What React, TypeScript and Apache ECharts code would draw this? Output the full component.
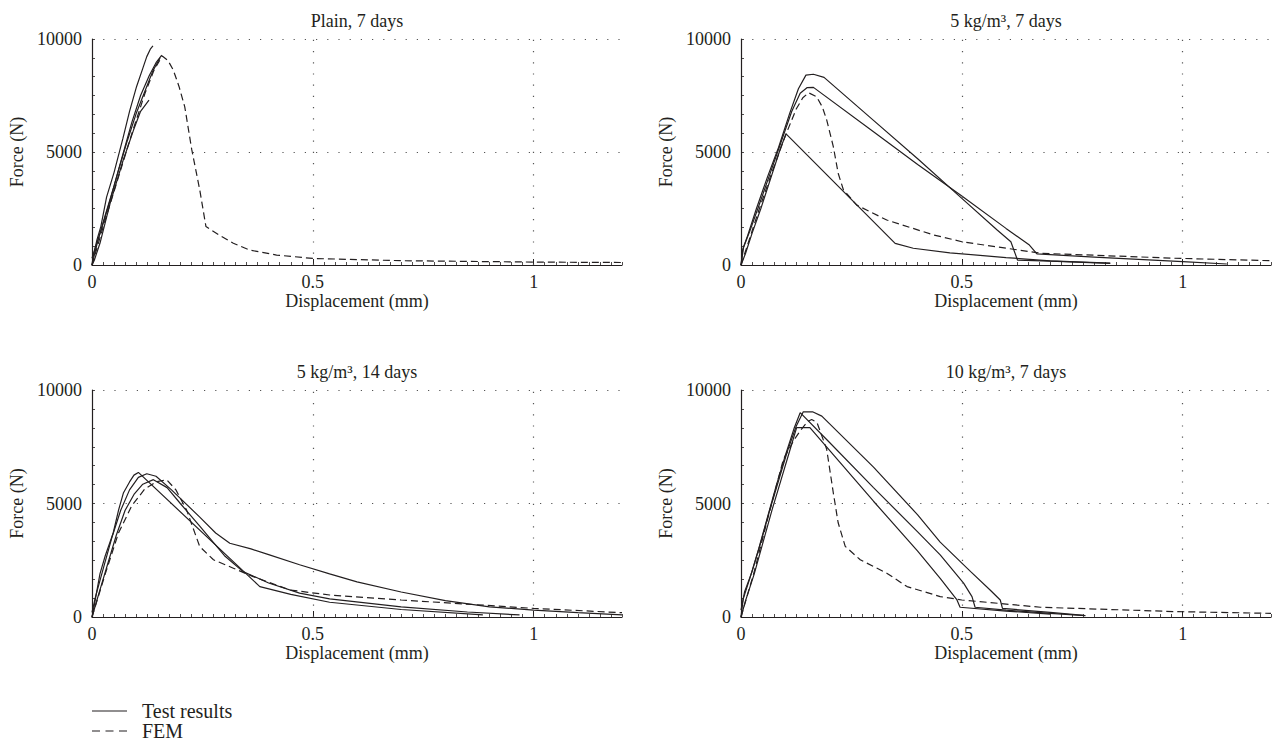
import React, { useEffect, useRef } from 'react';
import * as echarts from 'echarts';

// ---------- labels ----------
const panelTitles = ['Plain, 7 days', '5 kg/m³, 7 days', '5 kg/m³, 14 days', '10 kg/m³, 7 days'];
const xAxisName = 'Displacement (mm)';
const yAxisName = 'Force (N)';
const legendLabels = ['Test results', 'FEM'];
const xTickValues = [0, 0.5, 1];
const xGridValues = [0.5, 1];

// ---------- data: [displacement (mm), force (N)] ----------
// Plain, 7 days
const plainTest1 = [[0,0],[0.002,300],[0.011,1100],[0.02,1700],[0.033,3000],[0.05,4100],[0.07,5600],[0.085,6800],[0.101,7900],[0.115,8700],[0.124,9220],[0.132,9550],[0.138,9700]];
const plainTest2 = [[0,0],[0.006,500],[0.015,1200],[0.03,2200],[0.05,3500],[0.07,4900],[0.09,6300],[0.11,7500],[0.13,8400],[0.145,8950],[0.158,9290]];
const plainTest3 = [[0,300],[0.008,800],[0.02,1500],[0.04,2800],[0.06,4200],[0.08,5500],[0.1,6700],[0.12,7700],[0.138,8600],[0.154,9160]];
const plainTest4 = [[0,0],[0.005,200],[0.018,960],[0.041,2730],[0.07,4600],[0.094,5970],[0.11,6800],[0.129,7300]];
const plainFem = [[0,0],[0.03,2000],[0.06,3900],[0.09,5800],[0.12,7600],[0.14,8600],[0.159,9250],[0.172,9050],[0.184,8630],[0.197,7900],[0.21,7000],[0.226,5090],[0.244,3320],[0.258,1700],[0.29,1300],[0.32,960],[0.357,660],[0.418,440],[0.5,290],[0.7,190],[1.0,130],[1.2,110]];

// 5 kg/m3, 7 days
const f5d7Test1 = [[0,0],[0.004,700],[0.015,1300],[0.035,2500],[0.06,3900],[0.085,5200],[0.11,6700],[0.13,7800],[0.147,8400],[0.164,8440],[0.188,8300],[0.3,6400],[0.4,4700],[0.5,2950],[0.58,1550],[0.611,1030],[0.626,220],[0.7,170],[0.836,70]];
const f5d7Test2 = [[0,0],[0.006,800],[0.02,1500],[0.04,2600],[0.065,4000],[0.09,5400],[0.115,6800],[0.134,7600],[0.15,7850],[0.164,7860],[0.3,5900],[0.4,4450],[0.5,3050],[0.6,1620],[0.653,880],[0.67,490],[0.8,350],[1.0,150],[1.1,45]];
const f5d7Test3 = [[0,0],[0.01,500],[0.025,1400],[0.045,2500],[0.07,4000],[0.09,5200],[0.102,5800],[0.349,960],[0.39,740],[0.473,540],[0.6,330],[0.7,180],[0.836,80]];
const f5d7Fem = [[0,0],[0.02,1200],[0.04,2400],[0.07,4100],[0.1,5700],[0.125,6900],[0.14,7400],[0.153,7620],[0.171,7450],[0.184,7000],[0.194,6420],[0.209,5240],[0.22,4060],[0.232,3320],[0.262,2650],[0.33,1990],[0.436,1330],[0.5,1030],[0.678,520],[0.98,300],[1.2,190]];

// 5 kg/m3, 14 days
const f5d14Test1 = [[0,0],[0.005,500],[0.018,1900],[0.03,2700],[0.048,3700],[0.06,4700],[0.071,5460],[0.085,5950],[0.095,6250],[0.105,6370],[0.38,1340],[0.45,1000],[0.538,650],[0.7,330],[0.885,90]];
const f5d14Test2 = [[0,200],[0.008,900],[0.025,2100],[0.045,3500],[0.065,4700],[0.085,5600],[0.105,6150],[0.124,6310],[0.145,6200],[0.18,5600],[0.244,4400],[0.28,3700],[0.312,3250],[0.36,3000],[0.4,2750],[0.47,2300],[0.538,1900],[0.6,1550],[0.7,1100],[0.8,720],[0.9,450],[1.0,300],[1.1,190],[1.2,90]];
const f5d14Test3 = [[0,0],[0.015,1000],[0.035,2300],[0.055,3600],[0.075,4700],[0.095,5400],[0.115,5850],[0.139,6050],[0.17,5700],[0.2,5000],[0.244,4000],[0.27,3400],[0.3,2700],[0.342,2000],[0.4,1500],[0.47,1050],[0.538,800],[0.7,450],[0.85,220],[0.968,90]];
const f5d14Fem = [[0,0],[0.03,1900],[0.06,3700],[0.09,4900],[0.12,5650],[0.145,5950],[0.169,6050],[0.19,5600],[0.214,4720],[0.244,3100],[0.275,2520],[0.32,2150],[0.365,1780],[0.448,1190],[0.538,970],[0.7,750],[1.0,380],[1.2,190]];

// 10 kg/m3, 7 days
const f10d7Test1 = [[0,0],[0.005,800],[0.02,1700],[0.04,3000],[0.06,4400],[0.08,5800],[0.1,7100],[0.12,8300],[0.134,9000],[0.2,7700],[0.3,5700],[0.4,3750],[0.451,2740],[0.504,1490],[0.523,900],[0.53,430],[0.6,300],[0.7,160],[0.78,60]];
const f10d7Test2 = [[0,300],[0.008,1100],[0.025,2000],[0.045,3300],[0.065,4700],[0.085,6000],[0.105,7300],[0.125,8400],[0.141,9040],[0.162,9040],[0.183,8850],[0.3,6600],[0.4,4500],[0.451,3300],[0.52,2000],[0.564,1190],[0.587,750],[0.592,380],[0.7,200],[0.776,70]];
const f10d7Test3 = [[0,0],[0.01,700],[0.03,1900],[0.05,3300],[0.07,4700],[0.09,6000],[0.11,7300],[0.126,8340],[0.156,8340],[0.3,5100],[0.4,2900],[0.451,1700],[0.489,750],[0.496,430],[0.6,260],[0.7,130]];
const f10d7Fem = [[0,0],[0.03,2000],[0.06,4300],[0.096,6950],[0.12,7800],[0.134,8200],[0.15,8600],[0.16,8700],[0.172,8570],[0.194,7390],[0.209,5470],[0.22,4150],[0.236,3110],[0.27,2520],[0.33,1930],[0.376,1340],[0.451,900],[0.5,750],[0.678,430],[0.98,240],[1.2,160]];

const panelTests = [
  [plainTest1, plainTest2, plainTest3, plainTest4],
  [f5d7Test1, f5d7Test2, f5d7Test3],
  [f5d14Test1, f5d14Test2, f5d14Test3],
  [f10d7Test1, f10d7Test2, f10d7Test3],
];
const panelFem = [plainFem, f5d7Fem, f5d14Fem, f10d7Fem];

// ---------- layout ----------
const INK = '#231f20';
const FONT = '"Liberation Serif", "Times New Roman", serif';
const FS = 18;
const grids = [
  { left: 92, top: 39, width: 530, height: 226 },
  { left: 741, top: 39, width: 530, height: 226 },
  { left: 92, top: 390, width: 530, height: 227 },
  { left: 741, top: 390, width: 530, height: 227 },
];

export default function App() {
  const ref = useRef<HTMLDivElement>(null);
  useEffect(() => {
    if (!ref.current) return;
    const chart = echarts.init(ref.current, null, { renderer: 'svg' });

    const xAxes: any[] = [];
    const yAxes: any[] = [];
    const series: any[] = [];
    const graphics: any[] = [];

    grids.forEach((g, i) => {
      // main x axis
      xAxes.push({
        type: 'value', gridIndex: i, min: 0, max: 1.2, interval: 0.5, position: 'bottom',
        name: xAxisName, nameLocation: 'middle', nameGap: 24,
        nameTextStyle: { fontFamily: FONT, fontSize: FS, color: INK },
        axisLine: { show: true, onZero: false, lineStyle: { color: INK, width: 1.2 } },
        axisTick: { show: true, inside: true, length: 6, customValues: xGridValues, lineStyle: { color: INK } },
        axisLabel: { show: true, margin: 8, fontFamily: FONT, fontSize: FS, color: INK,
          customValues: xTickValues, formatter: (v: number) => String(v) },
        splitLine: { show: false },
      });
      // minor tick axis
      xAxes.push({
        type: 'value', gridIndex: i, min: 0, max: 1.2, interval: 0.025, position: 'bottom',
        axisLine: { show: false }, axisLabel: { show: false }, splitLine: { show: false },
        axisTick: { show: true, inside: true, length: 3, lineStyle: { color: INK, width: 0.8 } },
      });
      yAxes.push({
        type: 'value', gridIndex: i, min: 0, max: 10000, interval: 5000,
        name: yAxisName, nameLocation: 'middle', nameGap: 66, nameRotate: 90,
        nameTextStyle: { fontFamily: FONT, fontSize: FS, color: INK },
        axisLine: { show: true, onZero: false, lineStyle: { color: INK, width: 1.2 } },
        axisTick: { show: true, inside: true, length: 3, lineStyle: { color: INK, width: 0.8 } },
        minorTick: { show: true, splitNumber: 6, length: 3, lineStyle: { color: INK, width: 0.8 } },
        axisLabel: { margin: 10, fontFamily: FONT, fontSize: FS, color: INK, formatter: (v: number) => String(v) },
        splitLine: { show: true, lineStyle: { color: '#555', width: 1.2, type: [1.2, 10] } },
      });

      panelTests[i].forEach((d) => {
        series.push({
          type: 'line', xAxisIndex: i * 2, yAxisIndex: i, data: d,
          showSymbol: false, symbol: 'none', silent: true,
          lineStyle: { color: INK, width: 1.2 },
        });
      });
      series.push({
        type: 'line', xAxisIndex: i * 2, yAxisIndex: i, data: panelFem[i],
        showSymbol: false, symbol: 'none', silent: true,
        lineStyle: { color: INK, width: 1.2, type: [7, 4] },
        markLine: {
          silent: true, symbol: ['none', 'none'], label: { show: false },
          lineStyle: { color: '#555', width: 1.2, type: [1.2, 10] },
          data: xGridValues.map((v) => ({ xAxis: v })),
        },
      });

      graphics.push({
        type: 'text', x: g.left + g.width / 2, y: g.top - 18,
        style: { text: panelTitles[i], fontFamily: FONT, fontSize: FS, fill: INK, align: 'center', verticalAlign: 'middle' },
      });
    });

    // legend
    graphics.push(
      { type: 'line', shape: { x1: 92, y1: 711, x2: 127, y2: 711 }, style: { stroke: INK, lineWidth: 1.2 } },
      { type: 'text', x: 142, y: 711, style: { text: legendLabels[0], fontFamily: FONT, fontSize: 20, fill: INK, align: 'left', verticalAlign: 'middle' } },
      { type: 'line', shape: { x1: 92, y1: 731, x2: 127, y2: 731 }, style: { stroke: INK, lineWidth: 1.2, lineDash: [8, 5.5] } },
      { type: 'text', x: 142, y: 731, style: { text: legendLabels[1], fontFamily: FONT, fontSize: 20, fill: INK, align: 'left', verticalAlign: 'middle' } },
    );

    chart.setOption({
      animation: false,
      backgroundColor: '#ffffff',
      textStyle: { fontFamily: FONT, color: INK },
      grid: grids.map((g) => ({ ...g, containLabel: false })),
      xAxis: xAxes,
      yAxis: yAxes,
      series,
      graphic: graphics,
    });
    return () => chart.dispose();
  }, []);
  return <div ref={ref} style={{ position: 'fixed', left: 0, top: 0, width: 1274, height: 750, background: '#fff' }} />;
}
